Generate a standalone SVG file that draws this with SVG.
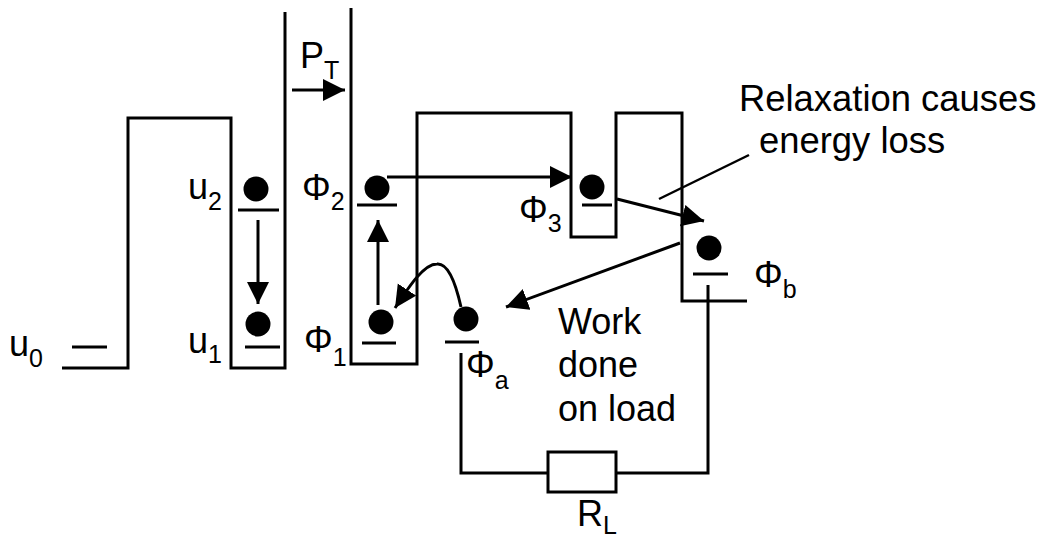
<svg xmlns="http://www.w3.org/2000/svg" width="1045" height="539" viewBox="0 0 1045 539">
<defs>
<marker id="ah" markerUnits="userSpaceOnUse" markerWidth="24" markerHeight="24" refX="22" refY="11" orient="auto"><path d="M0 0L22 11L0 22Z" fill="#000"/></marker>
</defs>
<style>
.l{fill:none;stroke:#000;stroke-width:3}
.t{fill:none;stroke:#000;stroke-width:2.5}
.a{fill:none;stroke:#000;stroke-width:3;marker-end:url(#ah)}
.d{fill:#000}
text{font-family:"Liberation Sans",Arial,sans-serif;font-size:36px;fill:#000}
.b{font-size:36.4px}
.s{font-size:25px}
</style>
<rect width="1045" height="539" fill="#fff"/>
<g id="wells">
<path class="l" d="M62 368H128V118H231V368H285V12"/>
<path class="l" d="M351 8V364H417V113H571V237H616V113H682V301H747"/>
</g>
<g id="levels">
<path class="l" d="M72 347H107M238 210H279M245 347H280M357 205H397M362 343H396M445 342H479M582 205H612M693 274H728"/>
</g>
<g id="electrons">
<circle class="d" cx="256" cy="189" r="12.5"/>
<circle class="d" cx="258" cy="324" r="12.5"/>
<circle class="d" cx="377" cy="188" r="12.5"/>
<circle class="d" cx="381" cy="322" r="12.5"/>
<circle class="d" cx="466" cy="319" r="12.5"/>
<circle class="d" cx="592" cy="187" r="12.5"/>
<circle class="d" cx="709" cy="248" r="12.5"/>
</g>
<g id="connectors">
<path class="a" d="M292 90H345"/>
<path class="a" d="M258 220V304"/>
<path class="a" d="M378 305V220"/>
<path class="a" d="M387 177H572"/>
<path class="a" d="M617 199L704 221"/>
<path class="a" d="M680 243L506 307"/>
<path class="a" d="M461 307C455 280 447 263 437 264C424 264 410 285 395 308"/>
<path class="t" d="M749 155L659 199"/>
<path class="l" d="M461 353V473H548M616 473H708V285"/>
</g>
<g id="resistor"><rect class="l" x="548" y="452" width="68" height="40"/></g>
<g id="labels">
<text x="300" y="68">P<tspan class="s" dy="11">T</tspan></text>
<text class="b" x="739" y="111">Relaxation causes</text>
<text class="b" x="759" y="153">energy loss</text>
<text x="188" y="199">u<tspan class="s" dy="11">2</tspan></text>
<text x="188" y="353">u<tspan class="s" dy="10">1</tspan></text>
<text x="9" y="356">u<tspan class="s" dy="11">0</tspan></text>
<text x="302" y="200">Φ<tspan class="s" dy="10">2</tspan></text>
<text x="304" y="352">Φ<tspan class="s" dy="14">1</tspan></text>
<text x="519" y="222">Φ<tspan class="s" dy="10">3</tspan></text>
<text x="466" y="377">Φ<tspan class="s" dy="12">a</tspan></text>
<text x="754" y="287">Φ<tspan class="s" dy="11">b</tspan></text>
<text x="558" y="334">Work</text>
<text x="558" y="377">done</text>
<text x="558" y="421">on load</text>
<text x="577" y="526">R<tspan class="s" dy="7.5">L</tspan></text>
</g>
</svg>
